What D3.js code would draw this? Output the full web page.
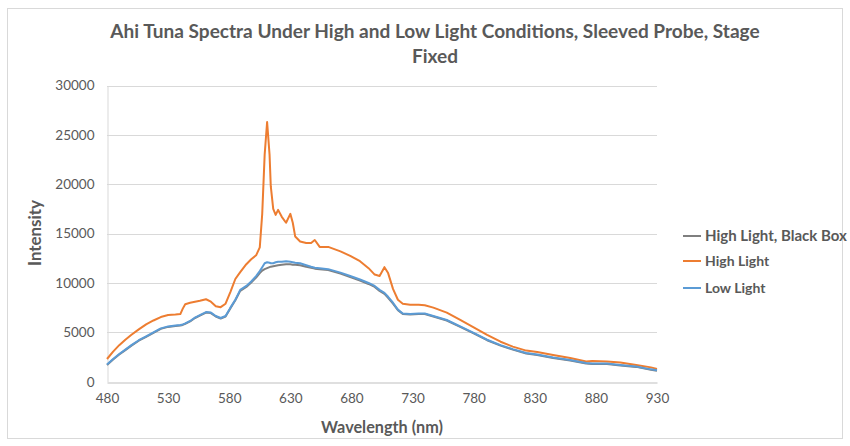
<!DOCTYPE html>
<html><head><meta charset="utf-8">
<script src="https://cdn.jsdelivr.net/npm/d3@7"></script>
<style>body{margin:0;background:#fff}svg{display:block}text{font-family:Lato,"Open Sans",sans-serif;fill:#595959}</style>
</head><body><svg id="c" width="850" height="446"></svg>
<script>
const wavelength = [480,485,490,495,500,506,512,518,524,530,536,540,542,544,548,552,556,561,565,569,573,577,581,585,589,594,598,602,605,607,609,611,613,614,616,618,620,623,626.5,630,632,634,638,643,647,650,654,661,671,679,687,694,699,703,707,710,714,718,722,728,735,740,747,758,769,780,791,802,812,823,832,845,859,872,877,889,900,913,925,930];
const highLight = [2300,3050,3700,4250,4750,5300,5800,6200,6550,6750,6800,6850,7400,7850,8000,8100,8200,8350,8100,7650,7550,7900,9100,10400,11100,11900,12400,12800,13600,17000,23000,26300,23000,19800,17500,16900,17400,16700,16100,17000,16100,14700,14200,14050,14050,14350,13650,13650,13200,12750,12200,11500,10850,10700,11600,11000,9400,8300,7900,7800,7800,7750,7500,7000,6250,5500,4750,4050,3550,3150,3000,2700,2400,2050,2100,2050,1950,1700,1450,1300];
const lowLight = [1750,2300,2800,3250,3700,4200,4600,5000,5400,5600,5700,5750,5800,5900,6150,6500,6750,7050,7000,6650,6450,6650,7500,8300,9300,9700,10150,10700,11200,11600,12000,12100,12050,12000,12000,12100,12150,12150,12200,12150,12100,12050,12000,11800,11650,11550,11500,11400,11050,10700,10350,10000,9700,9300,9000,8600,8000,7300,6900,6850,6900,6900,6650,6250,5600,4950,4250,3700,3300,2900,2750,2450,2200,1900,1850,1850,1700,1550,1250,1150];
const blackBox = [1700,2250,2750,3200,3650,4150,4550,4950,5350,5550,5650,5700,5750,5850,6100,6450,6700,7000,6950,6600,6400,6600,7450,8250,9200,9600,10050,10550,11000,11250,11400,11500,11600,11650,11700,11750,11800,11850,11900,11900,11850,11850,11800,11650,11550,11450,11400,11300,10950,10600,10250,9900,9600,9200,8900,8500,7900,7250,6850,6800,6850,6850,6600,6200,5550,4900,4200,3650,3250,2850,2700,2400,2150,1850,1800,1800,1650,1500,1200,1100];
const xTicks = [480,530,580,630,680,730,780,830,880,930];
const yTicks = [0,5000,10000,15000,20000,25000,30000];
const seriesNames = ["High Light, Black Box","High Light","Low Light"];
const seriesColors = ["#7F7F7F","#ED7D31","#5B9BD5"];
const titleLines = ["Ahi Tuna Spectra Under High and Low Light Conditions, Sleeved Probe, Stage","Fixed"];

const svg = d3.select("#c");
svg.append("rect").attr("x",7.5).attr("y",8.5).attr("width",835).attr("height",430).attr("fill","#fff").attr("stroke","#d9d9d9");

const x = d3.scaleLinear().domain([480,930]).range([107,657]);
const y = d3.scaleLinear().domain([0,30000]).range([381.7,85.5]);

// grid
svg.append("g").selectAll("line").data(yTicks.filter(d=>d>0)).join("line")
  .attr("x1",x(480)).attr("x2",x(930)).attr("y1",d=>Math.round(y(d))+0.5).attr("y2",d=>Math.round(y(d))+0.5)
  .attr("stroke","#d9d9d9").attr("stroke-width",1);

// axes
const gx = svg.append("g").attr("transform",`translate(0,${Math.round(y(0))+0.5})`)
  .call(d3.axisBottom(x).tickValues(xTicks).tickSize(0).tickPadding(11).tickFormat(d3.format("d")));
gx.select(".domain").attr("stroke","#bfbfbf");
gx.selectAll("text").attr("font-size",13.5).style("fill","#595959");
const gy = svg.append("g").attr("transform",`translate(${Math.round(x(480))+0.5},0)`)
  .call(d3.axisLeft(y).tickValues(yTicks).tickSize(0).tickPadding(13).tickFormat(d3.format("d")));
gy.select(".domain").attr("stroke","#d9d9d9");
gy.selectAll("text").attr("font-size",13.5).style("fill","#595959");

// lines
const series = [blackBox, highLight, lowLight];
const line = d3.line().x((d,i)=>x(wavelength[i])).y(d=>y(d));
series.forEach((s,k)=>{
  svg.append("path").datum(s).attr("d",line).attr("fill","none")
    .attr("stroke",seriesColors[k]).attr("stroke-width",2).attr("stroke-linejoin","round");
});

// title
function fit(t,w){const l=t.node().getComputedTextLength();const fs=parseFloat(t.attr("font-size"));t.attr("font-size",fs*w/l);}
const t1 = svg.append("text").attr("x",435).attr("y",38).attr("text-anchor","middle").attr("font-size",17).attr("font-weight","bold").text(titleLines[0]);
fit(t1,650);
svg.append("text").attr("x",435).attr("y",63).attr("text-anchor","middle").attr("font-size",t1.attr("font-size")).attr("font-weight","bold").text(titleLines[1]);

// axis titles
const xt = svg.append("text").attr("x",382).attr("y",433).attr("text-anchor","middle").attr("font-size",15).attr("font-weight","bold").text("Wavelength (nm)");
fit(xt,122);
const yt = svg.append("text").attr("transform","translate(41,233) rotate(-90)").attr("text-anchor","middle").attr("font-size",15).attr("font-weight","bold").text("Intensity");
fit(yt,66);

// legend
const ly = [236,261,288];
seriesNames.forEach((n,k)=>{
  svg.append("line").attr("x1",683).attr("x2",701).attr("y1",ly[k]).attr("y2",ly[k]).attr("stroke",seriesColors[k]).attr("stroke-width",2);
  const lt = svg.append("text").attr("x",705).attr("y",ly[k]+5).attr("font-size",14).attr("font-weight","bold").text(n);
  if(k===0) fit(lt,142);
});
</script></body></html>
